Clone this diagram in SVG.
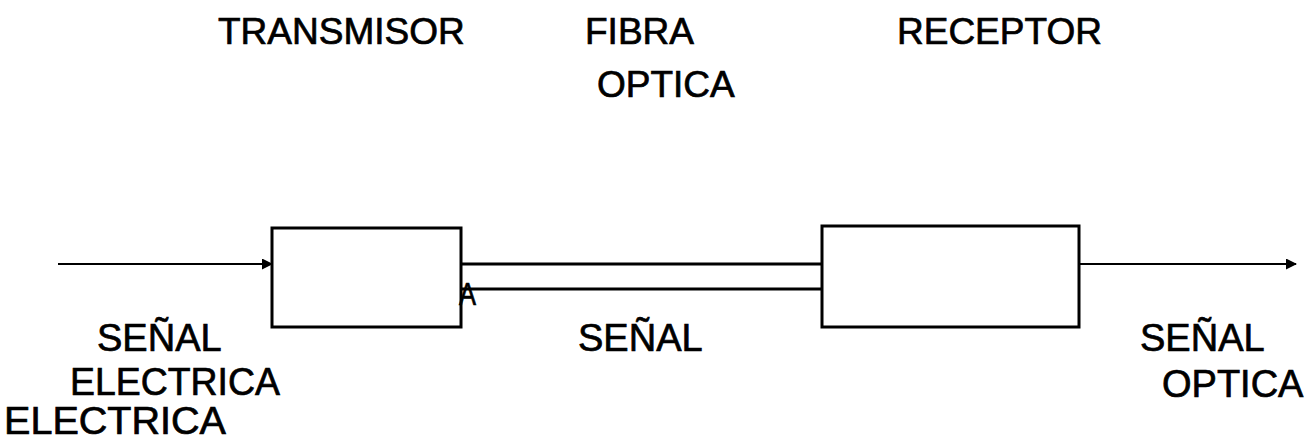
<svg xmlns="http://www.w3.org/2000/svg" width="1314" height="440" viewBox="0 0 1314 440">
<style>
text{font-family:"Liberation Sans",Arial,sans-serif;fill:#000;stroke:#000;stroke-width:0.7}
.t{font-size:37px}
.b{font-size:38px}
.box{fill:#fff;stroke:#000;stroke-width:3}
.ln{stroke:#000;fill:none}
</style>
<defs>
<marker id="ah" markerWidth="11" markerHeight="11" refX="10" refY="5.5" orient="auto" markerUnits="userSpaceOnUse">
<path d="M0,0 L11,5.5 L0,11 Z" fill="#000"/>
</marker>
</defs>
<rect width="1314" height="440" fill="#fff"/>
<g id="connectors">
<line class="ln" x1="58" y1="264" x2="272" y2="264" stroke-width="2" marker-end="url(#ah)"/>
<line class="ln" x1="461" y1="264" x2="822" y2="264" stroke-width="3"/>
<line class="ln" x1="461" y1="289" x2="822" y2="289" stroke-width="3"/>
<line class="ln" x1="1079" y1="264" x2="1296" y2="264" stroke-width="2" marker-end="url(#ah)"/>
</g>
<g id="transmisor">
<rect class="box" x="272" y="228" width="189" height="99"/>
<text class="t" x="218" y="44">TRANSMISOR</text>
</g>
<g id="fibra">
<text class="t" x="585" y="44">FIBRA</text>
<text class="t" x="597" y="97">OPTICA</text>
<text x="459" y="305" font-size="32" textLength="17" lengthAdjust="spacingAndGlyphs">A</text>
</g>
<g id="receptor">
<rect class="box" x="822" y="226" width="257" height="101"/>
<text class="t" x="897" y="44">RECEPTOR</text>
</g>
<g id="labels">
<text class="b" x="97" y="351">SEÑAL</text>
<text class="b" x="70" y="395" textLength="210" lengthAdjust="spacingAndGlyphs">ELECTRICA</text>
<text class="b" x="4" y="434" textLength="222" lengthAdjust="spacingAndGlyphs">ELECTRICA</text>
<text class="b" x="578" y="351">SEÑAL</text>
<text class="b" x="1140" y="351">SEÑAL</text>
<text class="b" x="1162" y="397">OPTICA</text>
</g>
</svg>
